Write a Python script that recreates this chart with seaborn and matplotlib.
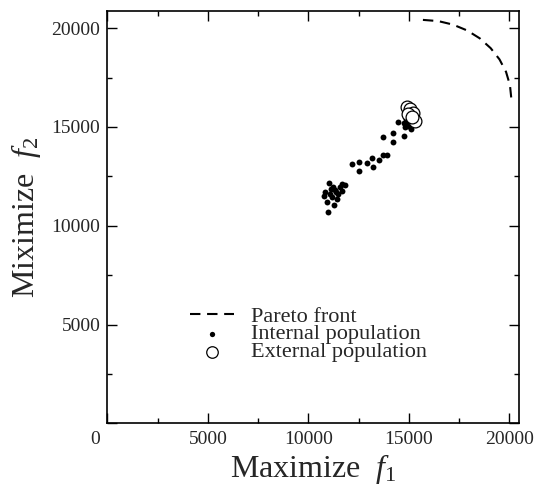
import matplotlib
matplotlib.use("Agg")
import matplotlib.pyplot as plt
import seaborn as sns
import pandas as pd
from matplotlib.ticker import MultipleLocator

# Pareto front (dashed arc in the upper-right corner)
pareto_f1 = [15700, 16460, 17200, 17900, 18530, 19070, 19510, 19835, 20030, 20100]
pareto_f2 = [20420, 20360, 20180, 19885, 19485, 18990, 18420, 17790, 17115, 16420]

# Internal population (small filled dots)
internal_f1 = [11045, 11661, 10831, 11492, 10781, 10915, 11278, 10995, 11164, 11328,
               11244, 11413, 11080, 11577, 11826, 11700, 11150, 11380,
               12537, 12159, 12537, 12935, 13234, 13154, 13532, 13701, 13930,
               13701, 14199, 14229, 14477, 14761,
               14761, 14860, 14960, 14811, 15059, 14910, 15010, 15109]
internal_f2 = [12170, 12119, 11729, 11613, 11527, 11193, 11071, 10687, 11446, 11830,
               11952, 11360, 11613, 11967, 12069, 11780, 11880, 11700,
               12792, 13116, 13247, 13181, 12964, 13419, 13333, 13586, 13586,
               14482, 14229, 14684, 15241, 14563,
               15206, 15408, 15053, 15003, 15509, 15661, 15256, 14901]

# External population (open circles)
external_f1 = [14895, 15059, 15224, 15308, 14975, 15159]
external_f2 = [16000, 15914, 15711, 15322, 15660, 15509]

x_ticks = [0, 5000, 10000, 15000, 20000]
y_ticks = [0, 5000, 10000, 15000, 20000]
x_tick_labels = ["", "5000", "10000", "15000", "20000"]
y_tick_labels = ["", "5000", "10000", "15000", "20000"]

sns.set_theme(style="white")
plt.rcParams["font.family"] = ["Liberation Serif", "DejaVu Serif"]
plt.rcParams["mathtext.fontset"] = "custom"
plt.rcParams["mathtext.rm"] = "Liberation Serif"
plt.rcParams["mathtext.it"] = "Liberation Serif:italic"

fig = plt.figure(figsize=(5.35, 4.87), dpi=100)
ax = fig.add_axes([107.3 / 535, 1 - 423.3 / 487, (519 - 107.3) / 535, (423.3 - 11) / 487])

pareto_df = pd.DataFrame({"f1": pareto_f1, "f2": pareto_f2})
internal_df = pd.DataFrame({"f1": internal_f1, "f2": internal_f2})
external_df = pd.DataFrame({"f1": external_f1, "f2": external_f2})

sns.lineplot(data=pareto_df, x="f1", y="f2", sort=False, estimator=None,
             color="black", linewidth=1.5, ax=ax, label="Pareto front")
front_line = ax.lines[-1]
front_line.set_dashes((5.0, 3.2))

sns.scatterplot(data=internal_df, x="f1", y="f2", s=18, color="black",
                edgecolor="black", linewidth=0, ax=ax, label="Internal population")
sns.scatterplot(data=external_df, x="f1", y="f2", s=85, facecolor="white",
                edgecolor="black", linewidth=0.9, ax=ax, label="External population",
                zorder=3)

ax.set_xlim(0, 20480)
ax.set_ylim(0, 20870)
ax.set_xticks(x_ticks)
ax.set_xticklabels(x_tick_labels)
ax.set_yticks(y_ticks)
ax.set_yticklabels(y_tick_labels)
ax.xaxis.set_minor_locator(MultipleLocator(2500))
ax.yaxis.set_minor_locator(MultipleLocator(2500))

ax.tick_params(which="both", direction="in", top=True, right=True,
               bottom=True, left=True, color="black", width=1.0)
ax.tick_params(which="major", length=7.2, labelsize=14)
ax.tick_params(axis="x", which="major", pad=5.5)
ax.tick_params(axis="y", which="major", pad=5)
ax.tick_params(which="minor", length=3.6)
for sp in ax.spines.values():
    sp.set_color("black")
    sp.set_linewidth(1.2)

# shared corner zero
ax.annotate("0", xy=(0, 0), xycoords="data", xytext=(-9, -5.5),
            textcoords="offset points", ha="center", va="top", fontsize=14)

ax.set_xlabel("Maximize  $f_1$", fontsize=23, labelpad=3)
ax.set_ylabel("Miximize  $f_2$", fontsize=23, labelpad=6)

handles, labels = ax.get_legend_handles_labels()
leg = ax.legend(handles, labels, loc="upper left",
                bbox_to_anchor=(190 / 535, 1 - 306 / 487),
                bbox_transform=fig.transFigure, frameon=False, fontsize=16,
                borderpad=0, borderaxespad=0, handlelength=2.0,
                handletextpad=0.75, labelspacing=-0.12, markerscale=0.9)

fig.savefig("out.png", dpi=100)
